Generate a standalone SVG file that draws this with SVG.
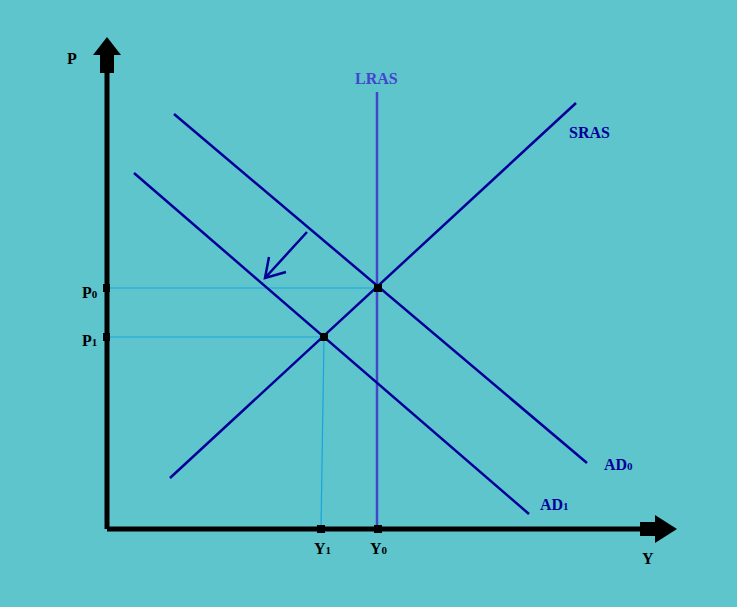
<svg xmlns="http://www.w3.org/2000/svg" width="737" height="607" viewBox="0 0 737 607">
<style>
.c{stroke:#000099;stroke-width:2.5;fill:none}
.g{stroke:#1aa3e0;stroke-width:1.2;fill:none}
.t{font-family:"Liberation Serif",serif;font-weight:bold;font-size:16px;fill:#000099}
.k{font-family:"Liberation Serif",serif;font-weight:bold;font-size:16px;fill:#000}
.s{font-size:11px}
</style>
<rect width="737" height="607" fill="#5ec5cc"/>
<g id="axes">
<line x1="107" y1="70" x2="107" y2="529" stroke="#000" stroke-width="5"/>
<rect x="100" y="54" width="14" height="19" fill="#000"/>
<polygon points="93,55 121,55 107,37" fill="#000"/>
<line x1="107" y1="529" x2="642" y2="529" stroke="#000" stroke-width="5"/>
<rect x="640" y="522" width="16" height="14" fill="#000"/>
<polygon points="655,515 655,543 677,529" fill="#000"/>
<text class="k" x="67" y="64" font-size="20">P</text>
<text class="k" x="642" y="564" font-size="20">Y</text>
</g>
<g id="connectors">
<line class="g" x1="107" y1="288" x2="378" y2="288"/>
<line class="g" x1="107" y1="337" x2="324" y2="337"/>
<line class="g" x1="324" y1="337" x2="321" y2="529"/>
<line x1="377" y1="92" x2="377" y2="529" stroke="#4444cc" stroke-width="2.5"/>
<line class="c" x1="174" y1="114" x2="587" y2="463"/>
<line class="c" x1="134" y1="173" x2="529" y2="514"/>
<line class="c" x1="170" y1="478" x2="576" y2="103"/>
<path class="c" d="M307,232 L265,278 M269,257 L265,278 L286,272"/>
</g>
<g id="points" fill="#000">
<rect x="374" y="284" width="8" height="8"/>
<rect x="320" y="333" width="8" height="8"/>
<rect x="103" y="284" width="7" height="8"/>
<rect x="103" y="333" width="7" height="8"/>
<rect x="317" y="525" width="8" height="8"/>
<rect x="374" y="525" width="8" height="8"/>
</g>
<g id="labels">
<text class="t" x="355" y="84" fill="#4444cc" style="fill:#4444cc">LRAS</text>
<text class="t" x="569" y="138">SRAS</text>
<text class="t" x="604" y="470">AD<tspan class="s">0</tspan></text>
<text class="t" x="540" y="510">AD<tspan class="s">1</tspan></text>
<text class="k" x="82" y="298">P<tspan class="s">0</tspan></text>
<text class="k" x="82" y="346">P<tspan class="s">1</tspan></text>
<text class="k" x="314" y="554">Y<tspan class="s">1</tspan></text>
<text class="k" x="370" y="554">Y<tspan class="s">0</tspan></text>
</g>
</svg>
